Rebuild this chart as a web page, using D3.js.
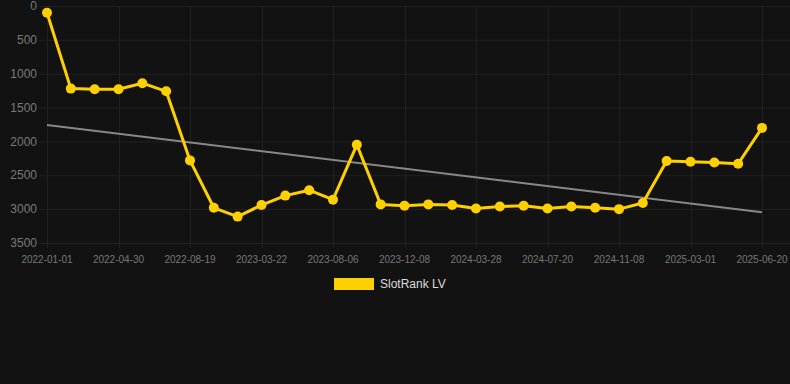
<!DOCTYPE html>
<html>
<head>
<meta charset="utf-8">
<script src="https://cdn.jsdelivr.net/npm/d3@7"></script>
<style>
  html, body { margin: 0; padding: 0; background: #121212; }
  svg { display: block; font-family: Arial, "Liberation Sans", sans-serif; }
</style>
</head>
<body>
<div id="chart"></div>
<script>
// categories (only every 3rd one is labelled on the axis)
const dates = [
  '2022-01-01', '2022-02-08', '2022-03-20', '2022-04-30', '2022-06-06', '2022-07-13',
  '2022-08-19', '2022-11-02', '2023-01-10', '2023-03-22', '2023-05-02', '2023-06-20',
  '2023-08-06', '2023-09-15', '2023-10-28', '2023-12-08', '2024-01-18', '2024-02-25',
  '2024-03-28', '2024-05-06', '2024-06-12', '2024-07-20', '2024-08-28', '2024-10-02',
  '2024-11-08', '2024-12-14', '2025-01-22', '2025-03-01', '2025-04-08', '2025-05-14',
  '2025-06-20'
];

// SlotRank LV values (rank, lower is better)
const rankValues = [
  100, 1220, 1230, 1230, 1140, 1260, 2280, 2980, 3110, 2940, 2800, 2720,
  2860, 2050, 2930, 2950, 2930, 2940, 2990, 2960, 2950, 2990, 2960, 2980,
  3000, 2910, 2290, 2300, 2310, 2330, 1800
];

const yTicks = [0, 500, 1000, 1500, 2000, 2500, 3000, 3500];
const seriesName = 'SlotRank LV';

const width = 790;
const height = 384;
const margin = {top: 6, right: 28, bottom: 141, left: 47};

const svg = d3.select('#chart').append('svg')
    .attr('width', width)
    .attr('height', height);

svg.append('rect')
    .attr('width', width)
    .attr('height', height)
    .attr('fill', '#121212');

// x: category axis, points on the ticks
const x = d3.scalePoint()
    .domain(dates)
    .range([margin.left, width - margin.right]);

// y: inverted (rank 0 at the top)
const y = d3.scaleLinear()
    .domain([0, 3500])
    .range([margin.top, height - margin.bottom]);

const labelled = dates.filter((d, i) => i % 3 === 0);

// grid
svg.append('g')
    .selectAll('line')
    .data(yTicks)
    .join('line')
    .attr('x1', 39)
    .attr('x2', width)
    .attr('y1', d => y(d) + 0.5)
    .attr('y2', d => y(d) + 0.5)
    .attr('stroke', '#212121')
    .attr('stroke-width', 1);

svg.append('g')
    .selectAll('line')
    .data(labelled)
    .join('line')
    .attr('x1', d => Math.round(x(d)) + 0.5)
    .attr('x2', d => Math.round(x(d)) + 0.5)
    .attr('y1', y(0))
    .attr('y2', y(3500) + 5)
    .attr('stroke', '#212121')
    .attr('stroke-width', 1);

// axis labels
svg.append('g')
    .selectAll('text')
    .data(yTicks)
    .join('text')
    .attr('x', 37)
    .attr('y', d => y(d))
    .attr('dy', '0.35em')
    .attr('text-anchor', 'end')
    .attr('fill', '#7a7a7a')
    .attr('font-size', 12)
    .text(d => d);

svg.append('g')
    .selectAll('text')
    .data(labelled)
    .join('text')
    .attr('x', d => x(d))
    .attr('y', y(3500) + 16)
    .attr('dy', '0.35em')
    .attr('text-anchor', 'middle')
    .attr('fill', '#777')
    .attr('font-size', 10)
    .text(d => d);

// linear trend (least squares on index)
const n = rankValues.length;
const meanI = (n - 1) / 2;
const meanV = d3.mean(rankValues);
const slope = d3.sum(rankValues, (v, i) => (i - meanI) * (v - meanV)) /
    d3.sum(rankValues, (v, i) => (i - meanI) * (i - meanI));
const trend = i => meanV + slope * (i - meanI);

svg.append('line')
    .attr('x1', x(dates[0]))
    .attr('y1', y(trend(0)))
    .attr('x2', x(dates[n - 1]))
    .attr('y2', y(trend(n - 1)))
    .attr('stroke', '#888')
    .attr('stroke-width', 2);

// series
const line = d3.line()
    .x((d, i) => x(dates[i]))
    .y(d => y(d));

svg.append('path')
    .datum(rankValues)
    .attr('d', line)
    .attr('fill', 'none')
    .attr('stroke', '#ffd000')
    .attr('stroke-width', 3)
    .attr('stroke-linejoin', 'round');

svg.append('g')
    .selectAll('circle')
    .data(rankValues)
    .join('circle')
    .attr('cx', (d, i) => x(dates[i]))
    .attr('cy', d => y(d))
    .attr('r', 5)
    .attr('fill', '#ffd000');

// legend
const legend = svg.append('g').attr('transform', 'translate(334,278)');
legend.append('rect')
    .attr('width', 40)
    .attr('height', 12)
    .attr('fill', '#ffd000');
legend.append('text')
    .attr('x', 46)
    .attr('y', 6)
    .attr('dy', '0.35em')
    .attr('fill', '#ddd')
    .attr('font-size', 12)
    .text(seriesName);
</script>
</body>
</html>
